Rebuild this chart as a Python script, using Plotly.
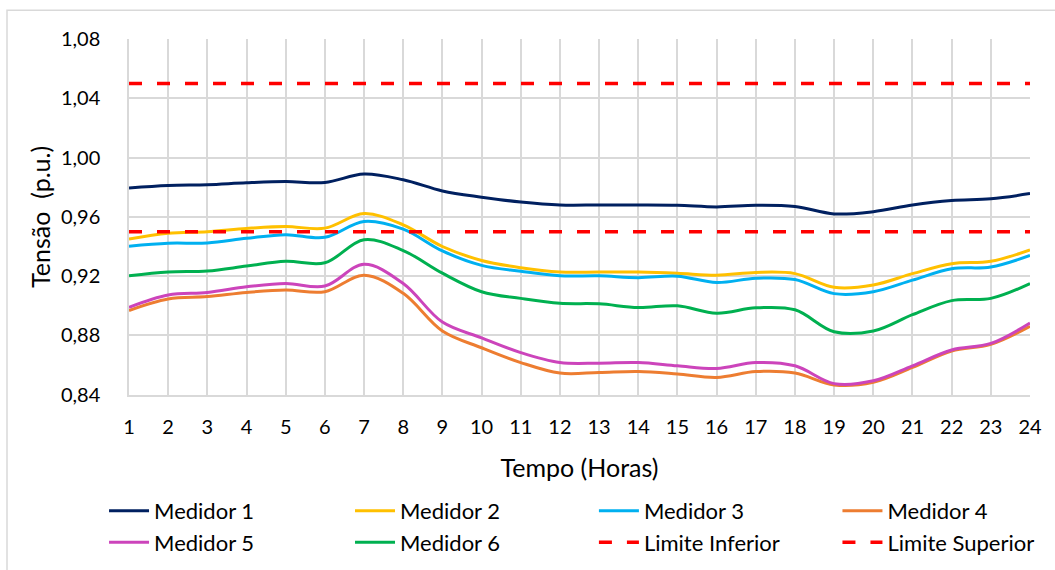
import plotly.graph_objects as go

horas = list(range(1, 25))

medidor_1 = [0.9795, 0.9812, 0.9817, 0.9830, 0.9838, 0.9832, 0.9889, 0.9850, 0.9775,
             0.9733, 0.9700, 0.9680, 0.9680, 0.9680, 0.9678, 0.9667, 0.9678, 0.9670,
             0.9620, 0.9635, 0.9680, 0.9710, 0.9722, 0.9757]
medidor_2 = [0.9450, 0.9490, 0.9500, 0.9522, 0.9535, 0.9524, 0.9622, 0.9546, 0.9400,
             0.9306, 0.9257, 0.9228, 0.9228, 0.9228, 0.9220, 0.9206, 0.9225, 0.9217,
             0.9125, 0.9140, 0.9217, 0.9284, 0.9300, 0.9377]
medidor_3 = [0.9402, 0.9422, 0.9424, 0.9455, 0.9480, 0.9462, 0.9569, 0.9517, 0.9370,
             0.9273, 0.9233, 0.9202, 0.9202, 0.9190, 0.9200, 0.9157, 0.9186, 0.9177,
             0.9082, 0.9095, 0.9173, 0.9250, 0.9262, 0.9340]
medidor_4 = [0.8968, 0.9046, 0.9062, 0.9090, 0.9106, 0.9095, 0.9206, 0.9084, 0.8830,
             0.8717, 0.8617, 0.8546, 0.8550, 0.8557, 0.8540, 0.8517, 0.8556, 0.8546,
             0.8466, 0.8484, 0.8584, 0.8695, 0.8740, 0.8862]
medidor_5 = [0.8990, 0.9073, 0.9090, 0.9128, 0.9150, 0.9133, 0.9280, 0.9150, 0.8890,
             0.8784, 0.8684, 0.8617, 0.8613, 0.8617, 0.8595, 0.8577, 0.8617, 0.8595,
             0.8475, 0.8494, 0.8595, 0.8702, 0.8746, 0.8884]
medidor_6 = [0.9202, 0.9228, 0.9235, 0.9268, 0.9300, 0.9290, 0.9446, 0.9373, 0.9220,
             0.9095, 0.9050, 0.9017, 0.9013, 0.8988, 0.9000, 0.8950, 0.8986, 0.8973,
             0.8825, 0.8830, 0.8940, 0.9035, 0.9050, 0.9150]
limite_inferior = [0.95] * 24
limite_superior = [1.05] * 24

# name, values, colour, dash, legend column
series = [
    ("Medidor 1", medidor_1, "#002060", None, "legend"),
    ("Medidor 2", medidor_2, "#FFC000", None, "legend2"),
    ("Medidor 3", medidor_3, "#00B0F0", None, "legend3"),
    ("Medidor 4", medidor_4, "#ED7D31", None, "legend4"),
    ("Medidor 5", medidor_5, "#CC44BB", None, "legend"),
    ("Medidor 6", medidor_6, "#00B050", None, "legend2"),
    ("Limite Inferior", limite_inferior, "#FF0000", "13px,15px", "legend3"),
    ("Limite Superior", limite_superior, "#FF0000", "13px,15px", "legend4"),
]

FONT = "Lato, 'Open Sans', sans-serif"

fig = go.Figure()

for name, values, color, dash, leg in series:
    fig.add_trace(
        go.Scatter(
            x=horas,
            y=values,
            name=name,
            mode="lines",
            legend=leg,
            line=dict(
                color=color,
                width=3.5 if dash else 3,
                dash=dash or "solid",
                shape="linear" if dash else "spline",
                smoothing=1,
            ),
        )
    )

# one small vertical legend per column, 2 rows each
legend_common = dict(
    orientation="v",
    xanchor="left",
    yref="container",
    y=0.1404,
    yanchor="top",
    font=dict(size=22),
    itemwidth=40,
    valign="middle",
    bgcolor="rgba(0,0,0,0)",
    tracegroupgap=0,
)

fig.update_layout(
    width=1055,
    height=570,
    margin=dict(l=129, r=25, t=39, b=172),
    paper_bgcolor="white",
    plot_bgcolor="white",
    separators=",.",
    font=dict(family=FONT, size=20, color="#000000"),
    showlegend=True,
    legend=dict(legend_common, x=-0.0277),
    legend2=dict(legend_common, x=0.2453),
    legend3=dict(legend_common, x=0.516),
    legend4=dict(legend_common, x=0.7863),
    shapes=[
        dict(
            type="rect",
            xref="paper",
            yref="paper",
            x0=-0.1354,
            x1=1.2,
            y0=-0.7,
            y1=1.0808,
            line=dict(color="#D9D9D9", width=1.5),
            layer="below",
        )
    ],
)

fig.update_xaxes(
    range=[1, 24],
    tickmode="linear",
    tick0=1,
    dtick=1,
    showgrid=True,
    gridcolor="#D9D9D9",
    gridwidth=1.5,
    showline=True,
    linecolor="#D9D9D9",
    linewidth=1.5,
    zeroline=False,
    ticks="",
    ticklabelstandoff=14,
    tickfont=dict(size=20),
    title=dict(text="Tempo (Horas)", font=dict(size=25), standoff=22),
)

fig.update_yaxes(
    range=[0.84, 1.08],
    tickmode="linear",
    tick0=0.84,
    dtick=0.04,
    tickformat=".2f",
    showgrid=True,
    gridcolor="#D9D9D9",
    gridwidth=1.5,
    showline=True,
    linecolor="#D9D9D9",
    linewidth=1.5,
    zeroline=False,
    ticks="",
    ticklabelstandoff=23,
    tickfont=dict(size=20),
    title=dict(text="Tensão\u00a0 (p.u.)", font=dict(size=25), standoff=3),
)

# drop the default 8px body margin so the figure sits at the window's corner
fig.write_html(
    "out.html",
    config={"displayModeBar": False},
    post_script="document.body.style.margin='0';",
)
